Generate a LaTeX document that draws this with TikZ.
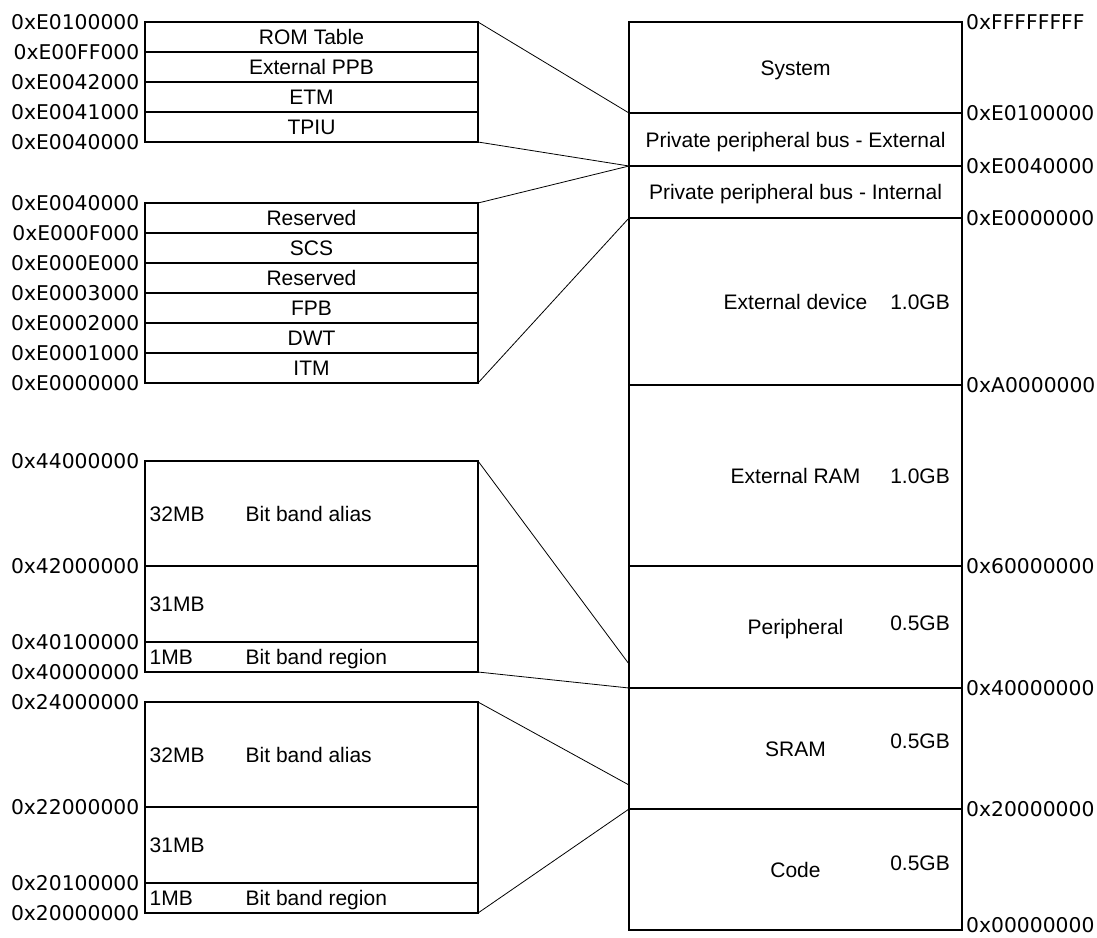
\documentclass[tikz,border=0pt]{standalone}
\usepackage{fontspec}
\newfontfamily\boxfont{Liberation Sans}
\newfontfamily\addrfont{DejaVu Sans}
\tikzset{
  cell/.style={draw,line width=1.2pt,outer sep=0pt,inner sep=0pt,
    minimum width=333pt,font=\boxfont\fontsize{21}{25}\selectfont,
    text height=15pt,text depth=0pt},
  txt/.style={inner sep=0pt,font=\boxfont\fontsize{21}{25}\selectfont,
    text height=15pt,text depth=0pt},
  addr/.style={inner sep=0pt,font=\addrfont\fontsize{20.3}{24}\selectfont,
    text height=14.8pt,text depth=0pt},
  link/.style={line width=0.8pt}
}
\begin{document}
\begin{tikzpicture}[x=1pt,y=-1pt]
  \useasboundingbox (0,0) rectangle (1097,937);
  \node [cell,minimum height=91pt] (system) at (795.5,67.5) {System};
  \node [cell,minimum height=53pt] (ppbext) at (795.5,139.5)
    {Private peripheral bus - External};
  \node [cell,minimum height=52pt] (ppbint) at (795.5,192)
    {Private peripheral bus - Internal};
  \node [cell,minimum height=167pt] (extdev) at (795.5,301.5) {External device};
  \node [cell,minimum height=181pt] (extram) at (795.5,475.5) {External RAM};
  \node [cell,minimum height=122pt] (periph) at (795.5,627) {Peripheral};
  \node [cell,minimum height=121pt] (sram) at (795.5,748.5) {SRAM};
  \node [cell,minimum height=121pt] (code) at (795.5,869.5) {Code};
  \node [txt,anchor=east] (extdev size) at (950,301.5) {1.0GB};
  \node [txt,anchor=east] (extram size) at (950,475.5) {1.0GB};
  \node [txt,anchor=east] (periph size) at (950,623) {0.5GB};
  \node [txt,anchor=east] (sram size) at (950,741) {0.5GB};
  \node [txt,anchor=east] (code size) at (950,863) {0.5GB};
  \foreach \a/\y [count=\i] in {FFFFFFFF/22,E0100000/113,E0040000/166,
      E0000000/218,A0000000/385,60000000/566,40000000/688,
      20000000/809,00000000/925}
    \node [addr,anchor=west] (map addr \i) at (966,\y) {0x\a};
  \foreach \t [count=\i] in {ROM Table,External PPB,ETM,TPIU}
    \node [cell,minimum height=30pt] (ppbx \i) at (311.5,7+30*\i) {\t};
  \foreach \a [count=\i] in {E0100000,E00FF000,E0042000,E0041000,E0040000}
    \node [addr,anchor=east] (ppbx addr \i) at (139.5,-8+30*\i) {0x\a};
  \foreach \t [count=\i] in {Reserved,SCS,Reserved,FPB,DWT,ITM}
    \node [cell,minimum height=30pt] (ppbi \i) at (311.5,188+30*\i) {\t};
  \foreach \a [count=\i] in {E0040000,E000F000,E000E000,E0003000,
      E0002000,E0001000,E0000000}
    \node [addr,anchor=east] (ppbi addr \i) at (139.5,173+30*\i) {0x\a};
  \foreach \top/\d/\nm in {461/4/bbp,702/2/bbs}{
    \node [cell,minimum height=105pt] (\nm-alias) at (311.5,\top+52.5) {};
    \node [cell,minimum height=76pt] (\nm-rest) at (311.5,\top+143) {};
    \node [cell,minimum height=30pt] (\nm-region) at (311.5,\top+196) {};
    \node [txt,anchor=west] (\nm-alias-size) at (149.5,\top+52.5) {32MB};
    \node [txt,anchor=west] (\nm-alias-text) at (245.5,\top+52.5) {Bit band alias};
    \node [txt,anchor=west] (\nm-rest-size) at (149.5,\top+143) {31MB};
    \node [txt,anchor=west] (\nm-region-size) at (149.5,\top+196) {1MB};
    \node [txt,anchor=west] (\nm-region-text) at (245.5,\top+196) {Bit band region};
    \node [addr,anchor=east] (\nm-addr-1) at (139.5,\top) {0x\d4000000};
    \node [addr,anchor=east] (\nm-addr-2) at (139.5,\top+105) {0x\d2000000};
    \node [addr,anchor=east] (\nm-addr-3) at (139.5,\top+181) {0x\d0100000};
    \node [addr,anchor=east] (\nm-addr-4) at (139.5,\top+211) {0x\d0000000};
  }
  \draw [link] (ppbx 1.north east) -- (ppbext.north west);
  \draw [link] (ppbx 4.south east) -- (ppbext.south west);
  \draw [link] (ppbi 1.north east) -- (ppbint.north west);
  \draw [link] (ppbi 6.south east) -- (ppbint.south west);
  \draw [link] (bbp-alias.north east) -- ([yshift=24pt]periph.south west);
  \draw [link] (bbp-region.south east) -- (periph.south west);
  \draw [link] (bbs-alias.north east) -- ([yshift=24pt]sram.south west);
  \draw [link] (bbs-region.south east) -- (sram.south west);
\end{tikzpicture}
\end{document}
